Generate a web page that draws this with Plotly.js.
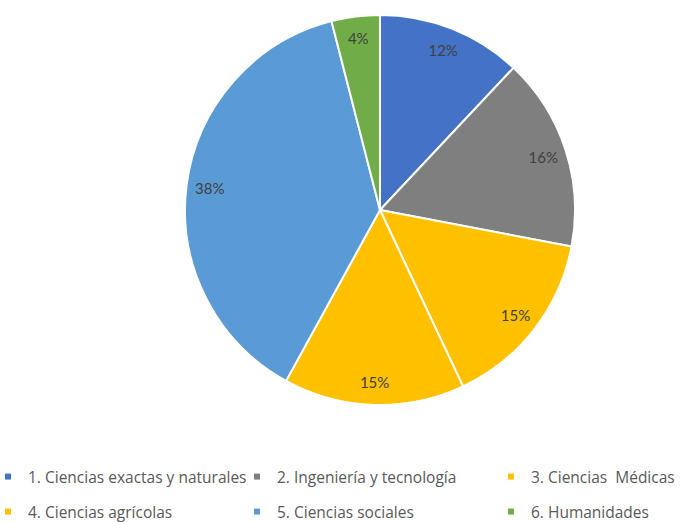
<!DOCTYPE html>
<html>
<head>
<meta charset="utf-8">
<script src="https://cdn.plot.ly/plotly-3.0.1.min.js"></script>
<style>
html,body{margin:0;padding:0;background:#fff;}
#chart{width:683px;height:522px;}
</style>
</head>
<body>
<div id="chart"></div>
<script>
// Data
const categories = [
  "1. Ciencias exactas y naturales",
  "2. Ingeniería y tecnología",
  "3. Ciencias  Médicas",
  "4. Ciencias agrícolas",
  "5. Ciencias sociales",
  "6. Humanidades"
];
const shares = [12, 16, 15, 15, 38, 4];
const colors = ["#4472C4", "#7F7F7F", "#FFC000", "#FFC000", "#5B9BD5", "#70AD47"];

const FONT = "Lato, 'Open Sans', sans-serif";
const LEGEND_FONT = "'Open Sans', Lato, sans-serif";
const pieDomain = {x: [185/683, 575/683], y: [1 - 405/522, 1 - 15/522]};

const traces = [];
// main pie
traces.push({
  type: "pie",
  labels: categories,
  values: shares,
  sort: false,
  direction: "clockwise",
  rotation: 0,
  domain: pieDomain,
  marker: {colors: colors, line: {color: "#ffffff", width: 2}},
  textinfo: "none",
  hoverinfo: "label+percent",
  showlegend: false
});
// transparent ring that carries the percentage labels near the rim
traces.push({
  type: "pie",
  labels: categories,
  values: shares,
  sort: false,
  direction: "clockwise",
  rotation: 0,
  hole: 0.76,
  domain: pieDomain,
  marker: {colors: categories.map(() => "rgba(0,0,0,0)"), line: {width: 0}},
  textinfo: "percent",
  texttemplate: "%{percent:.0%}",
  textposition: "inside",
  insidetextorientation: "horizontal",
  textfont: {family: FONT, size: 15, color: "#404040"},
  hoverinfo: "skip",
  showlegend: false
});

// legend entries (one legend per entry, laid out in a 3x2 grid)
const legendNames = ["legend", "legend2", "legend3", "legend4", "legend5", "legend6"];
categories.forEach((c, i) => {
  traces.push({
    type: "scatter",
    mode: "markers",
    x: [null], y: [null],
    name: c,
    marker: {symbol: "square", size: 6, color: colors[i]},
    legend: legendNames[i],
    hoverinfo: "skip",
    showlegend: true
  });
});

const textStartX = [28, 277, 531];
const rowY = [477, 512];
const layout = {
  width: 683, height: 522,
  margin: {l: 0, r: 0, t: 0, b: 0, autoexpand: false},
  paper_bgcolor: "#ffffff",
  plot_bgcolor: "rgba(0,0,0,0)",
  xaxis: {visible: false, fixedrange: true},
  yaxis: {visible: false, fixedrange: true},
  font: {family: LEGEND_FONT, size: 15.5, color: "#595959"}
};
legendNames.forEach((ln, i) => {
  const col = i % 3, row = Math.floor(i / 3);
  layout[ln] = {
    x: (textStartX[col] - 40) / 683,
    y: 1 - rowY[row] / 522,
    xanchor: "left", yanchor: "middle",
    bgcolor: "rgba(0,0,0,0)", borderwidth: 0,
    font: {family: LEGEND_FONT, size: 15.5, color: "#595959"},
    itemclick: false, itemdoubleclick: false
  };
});

Plotly.newPlot("chart", traces, layout, {displayModeBar: false, staticPlot: true});
</script>
</body>
</html>
